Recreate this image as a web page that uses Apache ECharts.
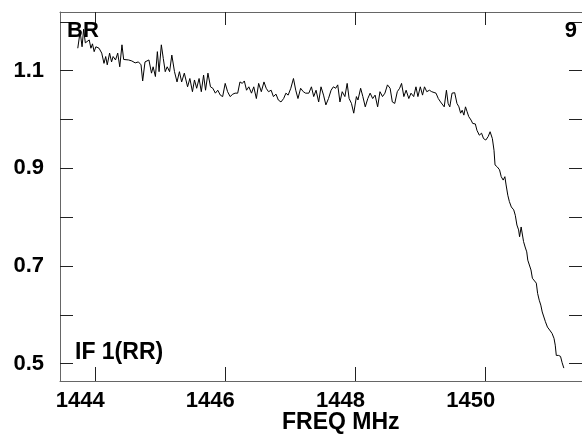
<!DOCTYPE html>
<html><head><meta charset="utf-8">
<script src="https://cdn.jsdelivr.net/npm/echarts@6/dist/echarts.min.js"></script>
<style>html,body{margin:0;padding:0;background:#fff}#c{width:582px;height:434px}</style>
</head><body><div id="c"></div>
<script>
// Frequency (MHz) of each sample
const freqMHz = [
 1443.733,1443.769,1443.799,1443.823,1443.849,1443.869,1443.909,1443.935,1443.959,1443.985,
 1444.011,1444.060,1444.101,1444.136,1444.162,1444.186,1444.222,1444.252,1444.276,1444.313,
 1444.347,1444.378,1444.412,1444.438,1444.464,1444.514,1444.563,1444.615,1444.665,1444.705,
 1444.730,1444.766,1444.790,1444.826,1444.866,1444.891,1444.926,1444.956,1444.982,1445.017,
 1445.047,1445.077,1445.107,1445.144,1445.178,1445.219,1445.258,1445.295,1445.329,1445.370,
 1445.385,1445.420,1445.455,1445.495,1445.526,1445.560,1445.597,1445.631,1445.666,1445.696,
 1445.733,1445.772,1445.808,1445.847,1445.884,1445.923,1445.959,1445.998,1446.035,1446.074,
 1446.115,1446.150,1446.190,1446.225,1446.261,1446.292,1446.326,1446.361,1446.402,1446.437,
 1446.477,1446.512,1446.553,1446.594,1446.628,1446.663,1446.704,1446.739,1446.779,1446.814,
 1446.855,1446.896,1446.931,1446.965,1447.006,1447.047,1447.082,1447.116,1447.157,1447.198,
 1447.233,
 1447.283,1447.323,1447.358,1447.394,1447.434,1447.470,1447.509,1447.545,1447.585,1447.625,
 1447.660,1447.696,1447.727,1447.761,1447.796,1447.837,1447.872,1447.902,1447.938,1447.973,
 1448.014,1448.038,1448.079,1448.113,1448.150,1448.189,1448.225,1448.264,1448.301,1448.340,
 1448.376,1448.415,1448.452,1448.491,1448.532,1448.566,1448.603,1448.642,1448.678,1448.708,
 1448.743,1448.778,1448.819,1448.853,1448.894,1448.929,1448.959,1448.996,1449.030,1449.060,
 1449.095,1449.136,1449.171,
 1449.196,1449.237,1449.272,1449.307,1449.337,1449.363,1449.397,1449.423,1449.449,1449.483,
 1449.524,1449.559,1449.589,1449.615,1449.639,1449.665,1449.690,1449.715,1449.740,1449.775,
 1449.801,1449.841,1449.866,1449.902,1449.937,1449.967,1450.002,1450.038,1450.068,1450.103,
 1450.128,
 1450.144,1450.178,1450.213,1450.239,1450.269,1450.295,1450.314,1450.340,1450.364,1450.394,
 1450.431,1450.455,1450.480,1450.506,1450.521,1450.545,
 1450.582,1450.606,1450.631,1450.647,1450.677,1450.696,1450.718,1450.748,1450.778,1450.798,
 1450.823,1450.847,1450.869,1450.899,1450.918,1450.949,1450.983,1451.020,1451.050,1451.069,
 1451.085,1451.119,1451.150,1451.175,1451.201
];
// Amplitude of each sample
const amplitude = [
 1.146,1.180,1.149,1.185,1.157,1.160,1.163,1.146,1.155,1.139,
 1.149,1.146,1.136,1.115,1.129,1.112,1.136,1.118,1.129,1.122,
 1.136,1.108,1.153,1.123,1.125,1.122,1.120,1.116,1.118,1.112,
 1.079,1.118,1.115,1.122,1.095,1.108,1.088,1.139,1.098,1.153,
 1.125,1.098,1.108,1.098,1.132,1.098,1.077,1.098,1.077,1.095,
 1.095,1.067,1.084,1.057,1.081,1.064,1.084,1.057,1.091,1.060,
 1.095,1.067,1.064,1.054,1.060,1.050,1.047,1.074,1.057,1.047,
 1.052,1.054,1.054,1.077,1.074,1.079,1.060,1.067,1.054,1.067,
 1.043,1.074,1.057,1.077,1.064,1.057,1.060,1.047,1.052,1.040,
 1.036,1.043,1.054,1.050,1.064,1.084,1.060,1.043,1.064,1.057,
 1.054,
 1.054,1.067,1.047,1.060,1.036,1.067,1.050,1.030,1.043,1.060,
 1.067,1.064,1.071,1.036,1.057,1.047,1.074,1.043,1.033,1.013,
 1.047,1.040,1.064,1.047,1.026,1.043,1.054,1.043,1.050,1.026,
 1.057,1.047,1.054,1.071,1.064,1.036,1.033,1.057,1.064,1.074,
 1.047,1.060,1.043,1.054,1.047,1.067,1.047,1.067,1.050,1.067,
 1.057,1.060,1.057,
 1.057,1.054,1.043,1.036,1.033,1.026,1.060,1.033,1.026,1.054,
 1.055,1.033,1.026,1.013,1.019,1.009,1.026,1.016,1.006,0.999,
 0.992,0.991,0.978,0.968,0.972,0.961,0.958,0.965,0.975,0.961,
 0.937,
 0.907,0.903,0.897,0.883,0.876,0.883,0.866,0.845,0.832,0.821,
 0.815,0.804,0.784,0.774,0.760,0.780,
 0.750,0.739,0.729,0.712,0.711,0.692,0.675,0.671,0.665,0.644,
 0.630,0.620,0.606,0.606,0.586,0.575,0.569,0.562,0.552,0.538,
 0.517,0.517,0.515,0.502,0.491
];
const xTickValues = [1444, 1446, 1448, 1450];
const yTickValues = [0.5, 0.6, 0.7, 0.8, 0.9, 1.0, 1.1, 1.2];
const yLabelValues = [0.5, 0.7, 0.9, 1.1];
const xAxisName = 'FREQ MHz';
const sourceLabel = 'BR';
const plotNumber = '9';
const ifLabel = 'IF 1(RR)';

const FONT = "'Liberation Sans', Arial, sans-serif";
const seriesData = freqMHz.map((f, i) => [f, amplitude[i]]);

const chart = echarts.init(document.getElementById('c'), null, {renderer: 'canvas'});
const axisLineStyle = {color: '#666', width: 1};
const tickStyle = {color: '#222', width: 1};
const xRange = {min: 1443.46, max: 1451.48};
const yRange = {min: 0.4646, max: 1.2202};

chart.setOption({
  backgroundColor: '#fff',
  animation: false,
  grid: {left: 60, right: -9, top: 12, bottom: 53},
  xAxis: [
    Object.assign({type: 'value', position: 'bottom',
      axisLine: {show: true, lineStyle: axisLineStyle},
      axisTick: {show: true, inside: true, length: 14, customValues: xTickValues, lineStyle: tickStyle},
      axisLabel: {show: true, customValues: xTickValues, margin: 9, padding: [0, 30, 0, 0],
        color: '#000', fontFamily: FONT, fontWeight: 'bold', fontSize: 22, formatter: v => String(v)},
      splitLine: {show: false}}, xRange),
    Object.assign({type: 'value', position: 'top',
      axisLine: {show: true, lineStyle: axisLineStyle},
      axisTick: {show: true, inside: true, length: 13, customValues: xTickValues, lineStyle: tickStyle},
      axisLabel: {show: false}, splitLine: {show: false}}, xRange)
  ],
  yAxis: [
    Object.assign({type: 'value', position: 'left',
      axisLine: {show: true, lineStyle: axisLineStyle},
      axisTick: {show: true, inside: true, length: 13, customValues: yTickValues, lineStyle: tickStyle},
      axisLabel: {show: true, customValues: yLabelValues, margin: 16, padding: [2, 0, 0, 0],
        color: '#000', fontFamily: FONT, fontWeight: 'bold', fontSize: 22, formatter: v => v.toFixed(1)},
      splitLine: {show: false}}, yRange),
    Object.assign({type: 'value', position: 'right',
      axisLine: {show: true, lineStyle: axisLineStyle},
      axisTick: {show: true, inside: true, length: 13, customValues: yTickValues, lineStyle: tickStyle},
      axisLabel: {show: false}, splitLine: {show: false}}, yRange)
  ],
  graphic: [
    {type: 'text', left: 67, top: 20, z: 10,
      style: {text: sourceLabel, fill: '#000', font: "bold 22px " + FONT}},
    {type: 'text', right: 5, top: 20, z: 10,
      style: {text: plotNumber, fill: '#000', font: "bold 22px " + FONT}},
    {type: 'text', left: 75, top: 341, z: 10,
      style: {text: ifLabel, fill: '#000', font: "bold 23px " + FONT}},
    {type: 'text', left: 282, top: 411, z: 10,
      style: {text: xAxisName, fill: '#000', font: "bold 23px " + FONT}}
  ],
  series: [{
    type: 'line', xAxisIndex: 0, yAxisIndex: 0, data: seriesData,
    showSymbol: false, symbol: 'none',
    lineStyle: {color: '#000', width: 1}, clip: true
  }]
});
</script></body></html>
